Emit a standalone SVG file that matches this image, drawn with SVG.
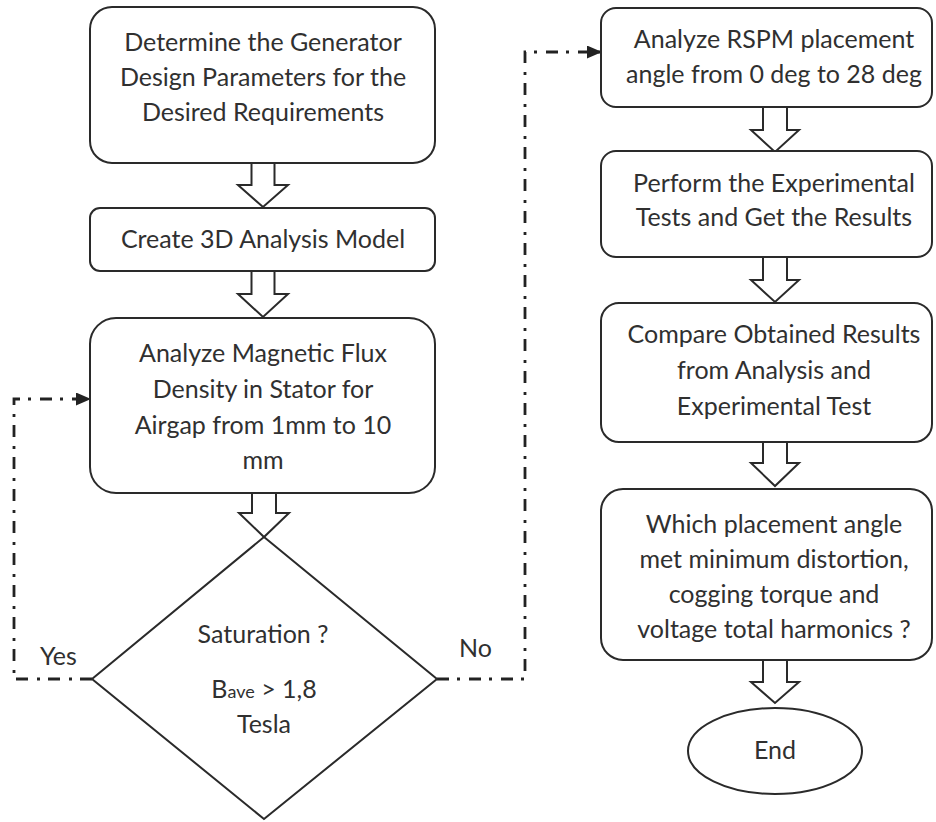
<svg xmlns="http://www.w3.org/2000/svg" width="936" height="822" viewBox="0 0 936 822">
<style>
.box{fill:#fff;stroke:#2a2a2a;stroke-width:2}
.arr{fill:#fff;stroke:#2a2a2a;stroke-width:2;stroke-linejoin:miter}
.t{font-family:Lato,"Open Sans",sans-serif;font-size:25px;fill:#303030;text-anchor:middle}
.lbl{font-family:Lato,"Open Sans",sans-serif;font-size:25px;fill:#303030}
.dd{fill:none;stroke:#222;stroke-width:2.8;stroke-dasharray:12 8 3 9}
</style>
<defs>
<marker id="ah" markerUnits="userSpaceOnUse" markerWidth="15" markerHeight="13" refX="14" refY="6.5" orient="auto">
<path d="M0,0 L15,6.5 L0,13 z" fill="#222"/>
</marker>
</defs>
<rect width="936" height="822" fill="#fff"/>
<g id="connectors">
<path class="dd" d="M92,679 H14 V399 H90" marker-end="url(#ah)"/>
<path class="dd" d="M437,679 H525 V52 H601" marker-end="url(#ah)"/>
<path class="arr" d="M251.5,163 V185 H238 L263,207 L288,185 H274.5 V163"/>
<path class="arr" d="M251.5,271 V294 H238 L263,317 L288,294 H274.5 V271"/>
<path class="arr" d="M252,493 V513 H239 L264,537 L289,513 H276 V493"/>
<path class="arr" d="M763,107 V130 H751 L775,152 L799,130 H787 V107"/>
<path class="arr" d="M763,257 V280 H751 L775,302 L799,280 H787 V257"/>
<path class="arr" d="M763,442 V463 H751 L775,486 L799,463 H787 V442"/>
<path class="arr" d="M763,660 V682 H751 L775,703 L799,682 H787 V660"/>
</g>
<g id="n1">
<rect class="box" x="90" y="7" width="345" height="156" rx="22"/>
<text class="t" x="263" y="51">Determine the Generator</text>
<text class="t" x="263" y="86">Design Parameters for the</text>
<text class="t" x="263" y="121">Desired Requirements</text>
</g>
<g id="n2">
<rect class="box" x="90" y="208" width="345" height="63" rx="10"/>
<text class="t" x="263" y="248">Create 3D Analysis Model</text>
</g>
<g id="n3">
<rect class="box" x="90" y="318" width="345" height="175" rx="26"/>
<text class="t" x="263" y="362">Analyze Magnetic Flux</text>
<text class="t" x="263" y="398">Density in Stator for</text>
<text class="t" x="263" y="434">Airgap from 1mm to 10</text>
<text class="t" x="263" y="469">mm</text>
</g>
<g id="n4">
<path class="box" d="M264,537 L437,679 L264,819 L92,679 Z"/>
<text class="t" x="263" y="643">Saturation ?</text>
<text class="t" x="264" y="698">B<tspan font-size="18px">ave</tspan> &gt; 1,8</text>
<text class="t" x="264" y="733">Tesla</text>
</g>
<g id="labels">
<text class="lbl" x="40" y="665">Yes</text>
<text class="lbl" x="459" y="657">No</text>
</g>
<g id="n5">
<rect class="box" x="601" y="8" width="331" height="99" rx="15"/>
<text class="t" x="774" y="48">Analyze RSPM placement</text>
<text class="t" x="774" y="83">angle from 0 deg to 28 deg</text>
</g>
<g id="n6">
<rect class="box" x="601" y="151" width="331" height="106" rx="15"/>
<text class="t" x="774" y="192">Perform the Experimental</text>
<text class="t" x="774" y="226">Tests and Get the Results</text>
</g>
<g id="n7">
<rect class="box" x="601" y="303" width="331" height="139" rx="18"/>
<text class="t" x="774" y="343">Compare Obtained Results</text>
<text class="t" x="774" y="379">from Analysis and</text>
<text class="t" x="774" y="415">Experimental Test</text>
</g>
<g id="n8">
<rect class="box" x="601" y="489" width="331" height="171" rx="22"/>
<text class="t" x="774" y="533">Which placement angle</text>
<text class="t" x="774" y="568">met minimum distortion,</text>
<text class="t" x="774" y="603">cogging torque and</text>
<text class="t" x="774" y="638">voltage total harmonics ?</text>
</g>
<g id="n9">
<ellipse class="box" cx="775" cy="751" rx="87" ry="43"/>
<text class="t" x="775" y="759">End</text>
</g>
</svg>
